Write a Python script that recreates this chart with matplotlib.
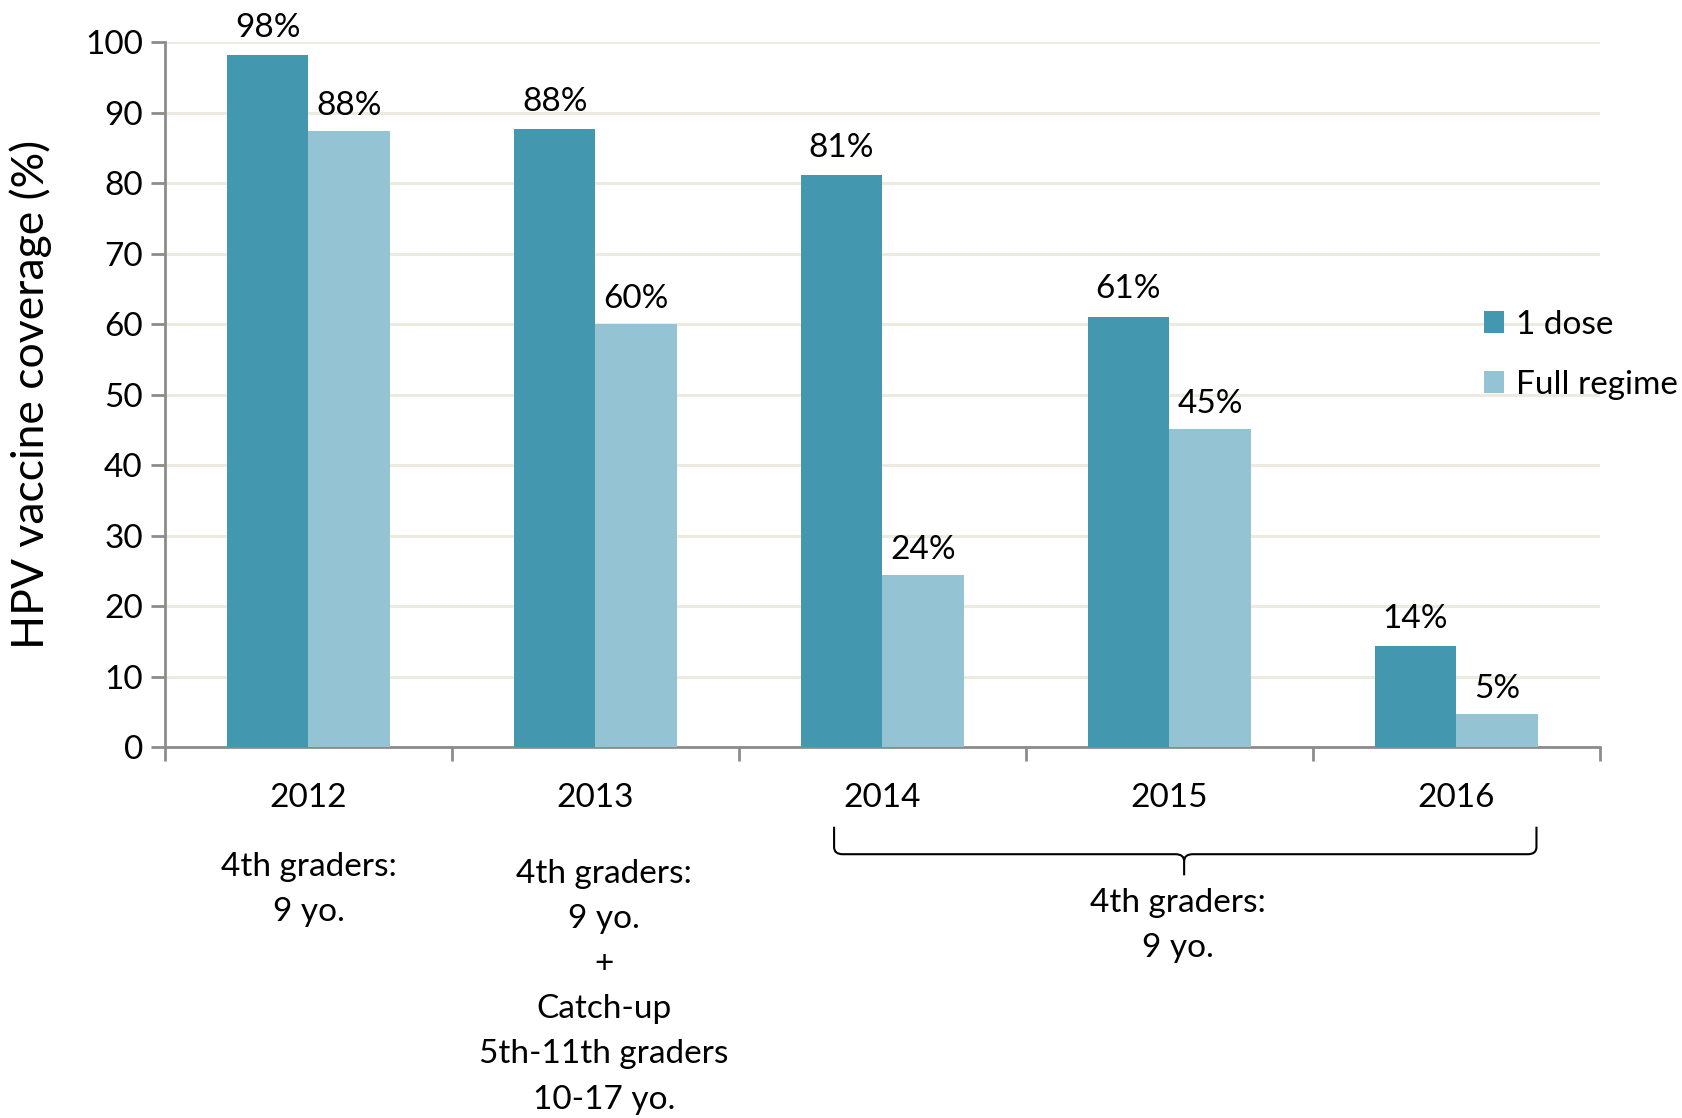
import numpy as np
import matplotlib
matplotlib.use("Agg")
import matplotlib.pyplot as plt
from matplotlib.path import Path
from matplotlib.patches import PathPatch

years = ["2012", "2013", "2014", "2015", "2016"]
one_dose = [98.1, 87.6, 81.1, 61.0, 14.3]
full_regime = [87.4, 60.0, 24.4, 45.1, 4.7]
one_dose_labels = ["98%", "88%", "81%", "61%", "14%"]
full_regime_labels = ["88%", "60%", "24%", "45%", "5%"]

note_2012 = ["4th graders:", "9 yo."]
note_2013 = ["4th graders:", "9 yo.", "+", "Catch-up", "5th-11th graders", "10-17 yo."]
note_bracket = ["4th graders:", "9 yo."]

dark = "#4398B0"
light = "#94C3D4"
axis_gray = "#8C8C8C"
grid_col = "#EDEBE0"

plt.rcParams['font.family'] = ['Lato', 'DejaVu Sans']
FS = 24


def main():
    fig = plt.figure(figsize=(16.82, 11.18), dpi=100)
    ax = fig.add_axes([0.0981, 0.3318, 0.8529, 0.6306])

    x = np.arange(len(years))
    w = 0.284
    ax.bar(x - w / 2, one_dose, w, color=dark, label="1 dose", zorder=3)
    ax.bar(x + w / 2, full_regime, w, color=light, label="Full regime", zorder=3)

    for i in range(len(years)):
        ax.annotate(one_dose_labels[i], (x[i] - w / 2, one_dose[i]), xytext=(0, 9),
                    textcoords="offset points", ha="center", va="bottom", fontsize=FS)
        ax.annotate(full_regime_labels[i], (x[i] + w / 2, full_regime[i]), xytext=(0, 7),
                    textcoords="offset points", ha="center", va="bottom", fontsize=FS)

    ax.set_xlim(-0.5, len(years) - 0.5)
    ax.set_ylim(0, 100)
    ax.set_yticks(range(0, 101, 10))
    ax.yaxis.grid(True, color=grid_col, linewidth=2.2, zorder=0)
    ax.set_axisbelow(True)

    # year labels centred, tick marks at the category borders
    ax.set_xticks(x)
    ax.set_xticklabels(years)
    ax.set_xticks(np.arange(-0.5, len(years)), minor=True)
    ax.tick_params(axis="x", which="major", length=0, pad=26, labelsize=FS)
    ax.tick_params(axis="x", which="minor", length=10, width=2, color=axis_gray)
    ax.tick_params(axis="y", length=10, width=2, color=axis_gray, labelsize=FS, pad=6)

    for s in ["top", "right"]:
        ax.spines[s].set_visible(False)
    for s in ["left", "bottom"]:
        ax.spines[s].set_color(axis_gray)
        ax.spines[s].set_linewidth(2)

    ax.set_ylabel("HPV vaccine coverage (%)", fontsize=32, labelpad=24)

    # notes under the years
    step = 0.064
    tr = ax.get_xaxis_transform()
    for k, line in enumerate(note_2012):
        ax.text(0, -0.170 - k * step, line, transform=tr, ha="center", va="center", fontsize=FS)
    for k, line in enumerate(note_2013):
        ax.text(1.03, -0.180 - k * step, line, transform=tr, ha="center", va="center", fontsize=FS)

    # bracket spanning 2014-2016
    xl, xr, xm = 1.832, 4.28, 3.052
    yt, yh, ytip = -0.113, -0.152, -0.182
    r = 0.01
    verts = [(xl, yt), (xl, yh + r), (xl, yh), (xl + 0.03, yh),
             (xm - 0.03, yh), (xm, yh), (xm, yh - r), (xm, ytip)]
    codes = [Path.MOVETO, Path.LINETO, Path.CURVE3, Path.CURVE3,
             Path.LINETO, Path.CURVE3, Path.CURVE3, Path.LINETO]
    ax.add_patch(PathPatch(Path(verts, codes), transform=tr, fill=False,
                           lw=1.5, color="black", clip_on=False))
    verts = [(xr, yt), (xr, yh + r), (xr, yh), (xr - 0.03, yh),
             (xm + 0.03, yh), (xm, yh), (xm, yh - r)]
    codes = [Path.MOVETO, Path.LINETO, Path.CURVE3, Path.CURVE3,
             Path.LINETO, Path.CURVE3, Path.CURVE3]
    ax.add_patch(PathPatch(Path(verts, codes), transform=tr, fill=False,
                           lw=1.5, color="black", clip_on=False))
    for k, line in enumerate(note_bracket):
        ax.text(3.03, -0.221 - k * step, line, transform=tr, ha="center", va="center", fontsize=FS)

    fig.legend(loc="upper left", bbox_to_anchor=(0.8825, 0.723), frameon=False,
               fontsize=FS, handlelength=0.6, handleheight=0.6, handletextpad=0.35,
               labelspacing=0.9, borderpad=0, borderaxespad=0)

    plt.savefig("out.png", dpi=100)


if __name__ == "__main__":
    main()
